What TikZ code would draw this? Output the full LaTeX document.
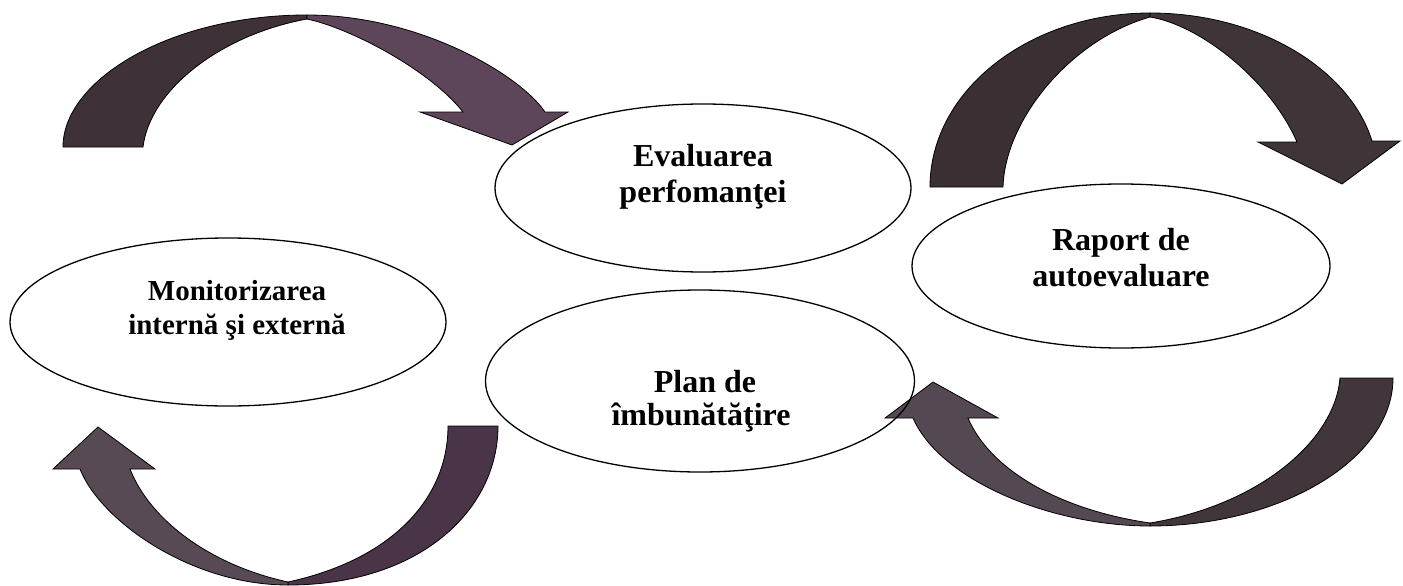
\documentclass[tikz,border=0pt]{standalone}
\usepackage{fontspec}
\setmainfont{Liberation Serif}
\usetikzlibrary{shapes.geometric}
\definecolor{adark}{HTML}{3E3137}
\definecolor{apurp}{HTML}{5D4659}
\definecolor{bdark}{HTML}{3A3034}
\definecolor{bdark2}{HTML}{3F3538}
\definecolor{cpurp}{HTML}{4A3447}
\definecolor{cgray}{HTML}{574A55}
\definecolor{dgray}{HTML}{544852}
\definecolor{ddark}{HTML}{40363B}
\tikzset{
  oval/.style={draw=black, line width=1.3pt, ellipse, inner sep=0pt},
  lbl/.style={anchor=base, inner sep=0pt, font=\fontsize{32}{36}\selectfont\bfseries},
  lblsmall/.style={lbl, font=\fontsize{29}{35}\selectfont\bfseries},
  band/.style={draw=black, line width=0.8pt, line join=miter}
}
\begin{document}
\begin{tikzpicture}[x=1pt,y=-1pt]
\useasboundingbox (0,0) rectangle (1403,586);
\fill[white] (0,0) rectangle (1403,586);

% arrow A (top left)
\filldraw[band, fill=adark] (63,147) .. controls (63,80) and (170,15) .. (307,15) -- (307,19) .. controls (220,35) and (150,90) .. (143,147) -- cycle;
\filldraw[band, fill=apurp] (307,15) .. controls (420,15) and (520,75) .. (545,112) -- (568,112) -- (512,145) -- (420,112) -- (463,112) .. controls (430,70) and (350,28) .. (307,19) -- cycle;

% arrow B (top right)
\filldraw[band, fill=bdark] (930,187) .. controls (930,90) and (1030,13) .. (1150,13) -- (1150,17) .. controls (1070,40) and (1005,120) .. (1003,187) -- cycle;
\filldraw[band, fill=bdark2] (1150,13) .. controls (1260,13) and (1350,70) .. (1372,141) -- (1400,141) -- (1342,184) -- (1258,142) -- (1297,142) .. controls (1270,80) and (1200,25) .. (1150,17) -- cycle;

% arrow C (bottom left)
\filldraw[band, fill=cpurp] (498,426) .. controls (498,510) and (420,585) .. (288,585) -- (288,582) .. controls (390,560) and (448,500) .. (448,426) -- cycle;
\filldraw[band, fill=cgray] (288,585) .. controls (190,585) and (100,520) .. (80,469) -- (53,469) -- (98,427) -- (155,469) -- (130,469) .. controls (150,520) and (210,565) .. (288,582) -- cycle;

% arrow D (bottom right)
\filldraw[band, fill=ddark] (1393,378) .. controls (1393,460) and (1280,526) .. (1150,526) -- (1150,523) .. controls (1260,505) and (1335,440) .. (1340,378) -- cycle;
\filldraw[band, fill=dgray] (1150,526) .. controls (1050,526) and (940,480) .. (913,418) -- (885,418) -- (933,382) -- (998,418) -- (968,418) .. controls (990,470) and (1060,510) .. (1150,523) -- cycle;

% ellipses
\node[oval, minimum width=416pt, minimum height=168pt] (eval) at (703,188) {};
\node[oval, minimum width=429pt, minimum height=182pt] (plan) at (700,381) {};
\node[oval, minimum width=436pt, minimum height=168pt] (mon) at (228,322) {};
\node[oval, minimum width=418pt, minimum height=164pt] (rap) at (1121,266) {};

% labels
\node[lbl] (eval1) at (703,166) {Evaluarea};
\node[lbl] (eval2) at (703,202) {perfomanţei};
\node[lbl] (plan1) at (705,392) {Plan de};
\node[lbl] (plan2) at (701,425) {îmbunătăţire};
\node[lblsmall] (mon1) at (237,300) {Monitorizarea};
\node[lblsmall] (mon2) at (237,334) {internă şi externă};
\node[lbl] (rap1) at (1121,250) {Raport de};
\node[lbl] (rap2) at (1121,286) {autoevaluare};
\end{tikzpicture}
\end{document}
